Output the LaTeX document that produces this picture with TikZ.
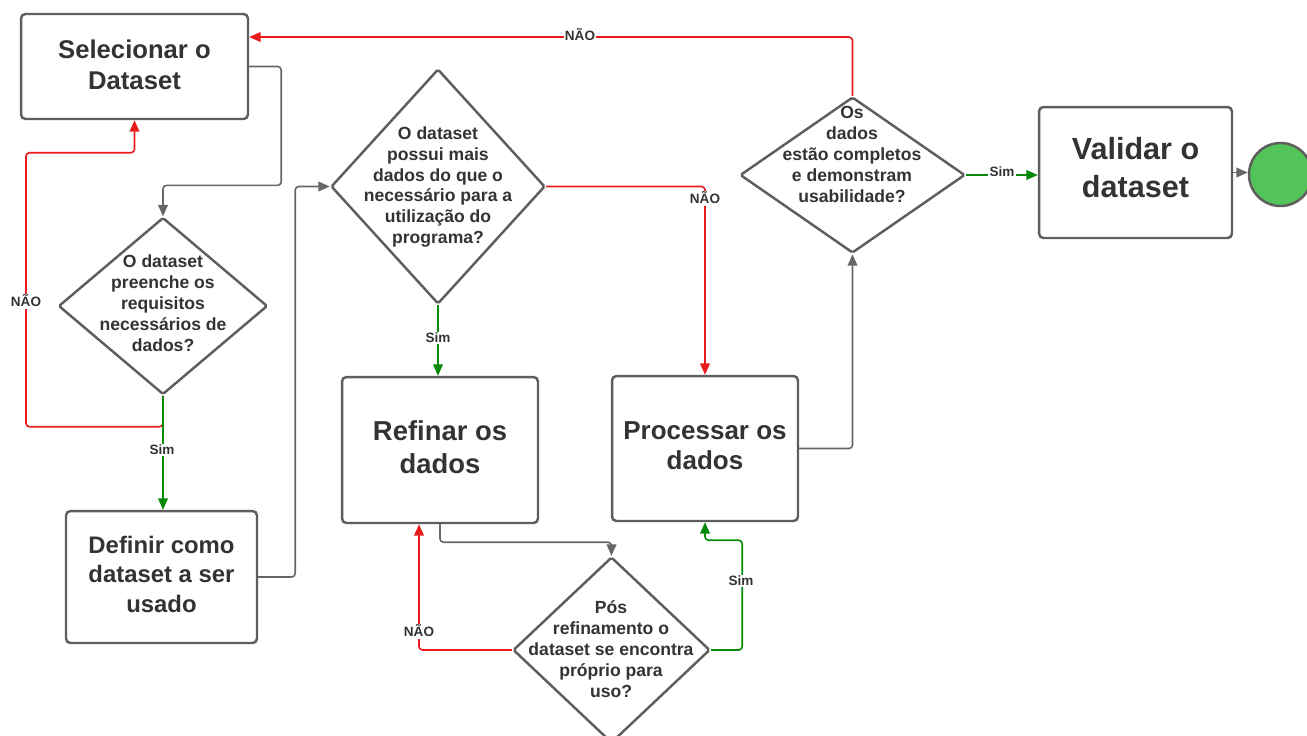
\documentclass[tikz,border=0pt]{standalone}
\usepackage{fontspec}
\setmainfont{Liberation Sans}
\usetikzlibrary{shapes.geometric,arrows.meta,calc}
\definecolor{ink}{HTML}{333333}
\definecolor{edge}{HTML}{5E5E5E}
\definecolor{wire}{HTML}{666666}
\definecolor{nored}{HTML}{E81C1C}
\definecolor{simgreen}{HTML}{078A07}
\definecolor{endgreen}{HTML}{52C45A}

\tikzset{
  box/.style={draw=edge, line width=1.4pt, rounded corners=2.5pt, align=center,
    text=ink, inner sep=0pt},
  dia/.style={diamond, draw=edge, line width=1.4pt, rounded corners=1pt, inner sep=0pt},
  dtext/.style={align=center, text=ink, inner sep=0pt,
    font=\fontsize{10}{11.9}\selectfont\bfseries},
  tip/.style={-{Triangle[length=6.5pt,width=5.5pt]}},
  flow/.style={tip, draw=wire, line width=0.9pt, rounded corners=2pt},
  nopath/.style={tip, draw=nored, line width=0.9pt, rounded corners=2pt},
  simpath/.style={tip, draw=simgreen, line width=0.9pt, rounded corners=2pt},
  lbl/.style={fill=white, text=ink, inner sep=0.8pt,
    font=\fontsize{7.7}{9}\selectfont\bfseries},
}

\begin{document}
\begin{tikzpicture}[x=0.02cm,y=-0.02cm]
\fill[white] (0,0) rectangle (1307,735);
\useasboundingbox (0,0) rectangle (1307,735);

% process boxes (text depth lifts the text slightly above the box centre)
\node[box, minimum width=4.54cm, minimum height=2.1cm, text depth=2.4pt,
  font=\fontsize{14.6}{17.6}\selectfont\bfseries] (sel) at (134.5,66.5) {Selecionar o\\Dataset};
\node[box, minimum width=3.82cm, minimum height=2.64cm, text depth=3.4pt,
  font=\fontsize{13.6}{16.8}\selectfont\bfseries] (def) at (161.5,577) {Definir como\\dataset a ser\\usado};
\node[box, minimum width=3.92cm, minimum height=2.92cm, text depth=3.4pt,
  font=\fontsize{15.6}{18.8}\selectfont\bfseries] (ref) at (440,450) {Refinar os\\dados};
\node[box, minimum width=3.72cm, minimum height=2.9cm, text depth=3.4pt,
  font=\fontsize{14.8}{17.6}\selectfont\bfseries] (proc) at (705,448.5) {Processar os\\dados};
\node[box, minimum width=3.86cm, minimum height=2.62cm, text depth=5.6pt,
  font=\fontsize{17.4}{21.6}\selectfont\bfseries] (val) at (1135.5,172.5) {Validar o\\dataset};

% end point
\node[circle, draw=edge, fill=endgreen, line width=1.4pt, minimum size=1.26cm, inner sep=0pt]
  (fim) at (1280.5,174.5) {};

% decisions
\node[dia, minimum width=4.18cm, minimum height=3.54cm] (d1) at (163,306) {};
\node[dtext] (d1t) at (163,303.5) {O dataset\\preenche os\\requisitos\\necessários de\\dados?};

\node[dia, minimum width=4.28cm, minimum height=4.7cm] (d2) at (438,186.5) {};
\node[dtext] (d2t) at (438,187) {O dataset\\possui mais\\dados do que o\\necessário para a\\utilização do\\programa?};

\node[dia, minimum width=3.94cm, minimum height=3.72cm] (d3) at (611.5,650) {};
\node[dtext] (d3t) at (611,649) {Pós\\refinamento o\\dataset se encontra\\próprio para\\uso?};

\node[dia, minimum width=4.5cm, minimum height=3.12cm] (d4) at (852.5,175) {};
\node[dtext] (d4t) at (852,154.5) {Os\\dados\\estão completos\\e demonstram\\usabilidade?};

% connectors
\draw[flow] (sel.east) -- ++(32,0) |- ($(d1.north)+(0,-31)$) -- (d1.north);
\draw[nopath] (d1.south) -- ++(0,31) -| ++(-137,-274) -| (sel.south);
\draw[simpath] (d1.south) -- (d1.south |- def.north);
\draw[flow] (def.east) -- ++(37,0) |- (d2.west);
\draw[simpath] (d2.south) -- (d2.south |- ref.north);
\draw[nopath] (d2.east) -| (proc.north);
\draw[flow] (ref.south) -- ++(0,18) -| (d3.north);
\draw[nopath] (d3.west) -| ($(ref.south)+(-21,0)$);
\draw[simpath] (d3.east) -- ++(31,0) |- ($(proc.south)+(0,18)$) -- (proc.south);
\draw[flow] (proc.east) -| (d4.south);
\draw[nopath] (d4.north) |- ($(sel.east)+(0,-29.5)$);
\draw[simpath] (d4.east) -- (d4.east -| val.west);
\draw[flow] (val.east) -- (val.east -| fim.west);

% branch labels
\node[lbl] (l1) at (26,301) {NÃO};
\node[lbl] (l2) at (162,450) {Sim};
\node[lbl] (l3) at (438,338) {Sim};
\node[lbl] (l4) at (705,198) {NÃO};
\node[lbl] (l5) at (419,631) {NÃO};
\node[lbl] (l6) at (741,581) {Sim};
\node[lbl] (l7) at (580,35) {NÃO};
\node[lbl] (l8) at (1002,172) {Sim};
\end{tikzpicture}
\end{document}
